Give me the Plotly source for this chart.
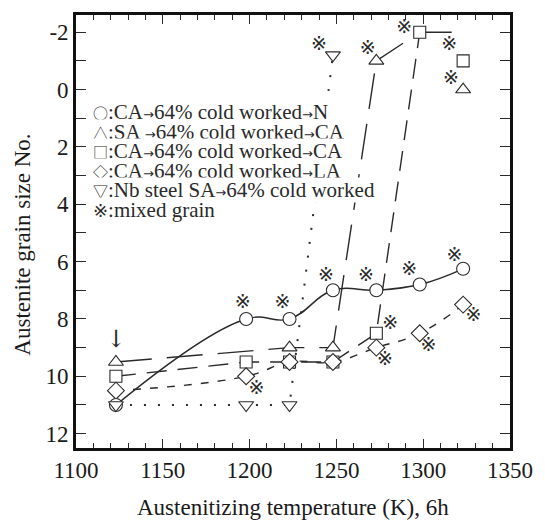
import plotly.graph_objects as go

# Austenite grain size No. versus austenitizing temperature (K), 6 h hold
temp_circle = [1123, 1198, 1223, 1248, 1273, 1298, 1323]
gs_circle = [11, 8, 8, 7, 7, 6.8, 6.25]

temp_tri = [1123, 1223, 1248, 1273, 1323]
gs_tri = [9.5, 9, 9, -1, 0]
tri_path_T = [1123, 1223, 1248, 1273, 1298, 1323]
tri_path_N = [9.5, 9, 9, -1, -2, -2]

temp_sq = [1123, 1198, 1223, 1248, 1273, 1298, 1323]
gs_sq = [10, 9.5, 9.5, 9.5, 8.5, -2, -1]
sq_path_T = [1123, 1198, 1223, 1248, 1273, 1298]
sq_path_N = [10, 9.5, 9.5, 9.5, 8.5, -2]

temp_dia = [1123, 1198, 1223, 1248, 1273, 1298, 1323]
gs_dia = [10.5, 10, 9.5, 9.5, 9, 8.5, 7.5]

temp_nb = [1123, 1198, 1223, 1248]
gs_nb = [11, 11, 11, -1.2]

# mixed-grain flags
mixed_T = [1196, 1219, 1244, 1267, 1292, 1318, 1281, 1278, 1303, 1329, 1204,
           1240, 1268, 1289, 1315, 1316]
mixed_N = [7.45, 7.45, 6.5, 6.5, 6.3, 5.8, 8.2, 9.45, 8.95, 7.9, 10.45,
           -1.55, -1.4, -2.15, -1.55, -0.35]

MIX = "\u203b"
legend_symbols = ["○", "△", "□", "◇", "▽", MIX]
legend_texts = [
    "CA→64% cold worked→N",
    "SA →64% cold worked→CA",
    "CA→64% cold worked→CA",
    "CA→64% cold worked→LA",
    "Nb steel SA→64% cold worked",
    "mixed grain",
]

y_ticks = [-2, 0, 2, 4, 6, 8, 10, 12]
y_ticktext = ["-2", "0", "2", "4", "6", "8", "10", "12"]

INK = "#2a2a2a"
SERIF = "Liberation Serif, DejaVu Serif, serif"
CJK = "Noto Sans CJK JP"
MIXFONT = "DejaVu Sans, Noto Sans CJK JP"
LW = 1.4

fig = go.Figure()

# connecting curves
fig.add_trace(go.Scatter(x=temp_circle, y=gs_circle, mode="lines",
                         line=dict(color=INK, width=LW, shape="spline", smoothing=1.2)))
fig.add_trace(go.Scatter(x=tri_path_T[:4], y=tri_path_N[:4], mode="lines",
                         line=dict(color=INK, width=LW, dash="36px,15px")))
fig.add_trace(go.Scatter(x=tri_path_T[3:], y=tri_path_N[3:], mode="lines",
                         line=dict(color=INK, width=LW, dash="32px,20px")))
fig.add_trace(go.Scatter(x=sq_path_T, y=sq_path_N, mode="lines",
                         line=dict(color=INK, width=LW, dash="20px,11px")))
fig.add_trace(go.Scatter(x=temp_dia, y=gs_dia, mode="lines",
                         line=dict(color=INK, width=LW, dash="8px,9px",
                                   shape="spline", smoothing=1.3)))
fig.add_trace(go.Scatter(x=temp_nb, y=gs_nb, mode="lines",
                         line=dict(color=INK, width=2, dash="2px,12px")))

# open symbols
def marks(x, y, symbol, size):
    fig.add_trace(go.Scatter(x=x, y=y, mode="markers",
                             marker=dict(symbol=symbol, size=size, color="white",
                                         line=dict(color=INK, width=1.1))))

marks(temp_sq, gs_sq, "square", 12)
marks(temp_dia, gs_dia, "diamond", 13)
marks(temp_circle, gs_circle, "circle", 13)
marks(temp_tri, gs_tri, "triangle-up", 13)
marks(temp_nb, gs_nb, "triangle-down", 13)

fig.add_trace(go.Scatter(x=mixed_T, y=mixed_N, mode="text",
                         text=[MIX] * len(mixed_T), textposition="middle center",
                         textfont=dict(family=MIXFONT, size=19, color=INK)))

# legend block written inside the frame
def arrowed(s):
    return s.replace("→", '<span style="font-family:DejaVu Sans;font-size:13px">→</span>')

for i, (sym, txt) in enumerate(zip(legend_symbols, legend_texts)):
    fam = MIXFONT if sym == MIX else CJK
    size = 18 if sym == MIX else 15
    label = (f'<span style="font-family:{fam};font-size:{size}px">{sym}</span>:'
             + arrowed(txt))
    fig.add_annotation(x=(92 - 76) / 436, y=(448 - (110 + 19.6 * i)) / 436,
                       xref="paper", yref="paper", xanchor="left", yanchor="middle",
                       text=label, showarrow=False, bgcolor="white", borderpad=0,
                       font=dict(family=SERIF, size=21, color=INK))

# arrow marking the lowest temperature
fig.add_annotation(x=temp_tri[0], y=8.7, xref="x", yref="y", text="↓", showarrow=False,
                   font=dict(family="DejaVu Serif", size=24, color=INK))

axis_common = dict(showline=True, linewidth=2.6, linecolor="#111", mirror="ticks",
                   ticks="inside", tickcolor=INK, tickwidth=1,
                   showgrid=False, zeroline=False,
                   tickfont=dict(family=SERIF, size=23, color="#1a1a1a"))

fig.update_xaxes(range=[1100, 1350], tick0=1100, dtick=50, ticklen=9,
                 minor=dict(dtick=10, ticks="inside", ticklen=5, tickcolor=INK, showgrid=False),
                 **axis_common)
fig.update_yaxes(range=[12.5, -2.6], tickmode="array", tickvals=y_ticks, ticktext=y_ticktext,
                 ticklen=10,
                 minor=dict(dtick=1, ticks="inside", ticklen=10, tickcolor=INK, showgrid=False),
                 **axis_common)

fig.add_annotation(x=0.5, y=(448 - 508) / 436, xref="paper", yref="paper",
                   text="Austenitizing temperature (K), 6h", showarrow=False,
                   xanchor="center", yanchor="middle",
                   font=dict(family=SERIF, size=23, color="#1a1a1a"))
fig.add_annotation(x=(22 - 76) / 436, y=(448 - 243) / 436, xref="paper", yref="paper",
                   text="Austenite grain size No.", showarrow=False, textangle=-90,
                   xanchor="center", yanchor="middle",
                   font=dict(family=SERIF, size=23, color="#1a1a1a"))

fig.update_layout(width=545, height=522, showlegend=False,
                  margin=dict(l=76, r=33, t=12, b=74),
                  paper_bgcolor="white", plot_bgcolor="white")

fig.write_html("out.html")
